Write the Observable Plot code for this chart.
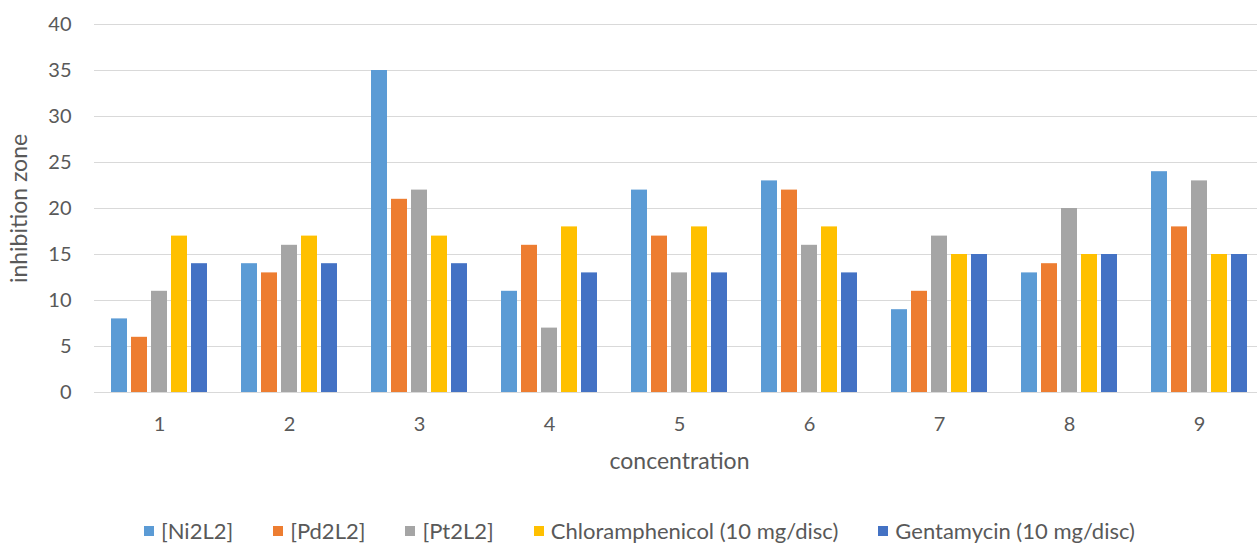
<!DOCTYPE html>
<html>
<head>
<meta charset="utf-8">
<script src="https://cdn.jsdelivr.net/npm/d3@7"></script>
<script src="https://cdn.jsdelivr.net/npm/@observablehq/plot@0.6"></script>
<style>
  html, body { margin: 0; padding: 0; background: #fff; }
  #chart { width: 1257px; height: 544px; position: relative; overflow: hidden; font-family: Lato, "Open Sans", sans-serif; color: #595959; }
  #chart svg { display: block; max-width: none !important; }
  #legend { display: flex; justify-content: center; align-items: center; gap: 40px; font-size: 22px; line-height: 26px; height: 30px; padding-top: 16px; margin-left: 22px; white-space: nowrap; }
  #legend .item { display: flex; align-items: center; gap: 7px; }
  #legend .sw { width: 10px; height: 10px; display: inline-block; }
</style>
</head>
<body>
<div id="chart"></div>
<script>
const categories = ["1", "2", "3", "4", "5", "6", "7", "8", "9"];
const series = ["[Ni2L2]", "[Pd2L2]", "[Pt2L2]", "Chloramphenicol (10 mg/disc)", "Gentamycin (10 mg/disc)"];
const ni2l2 = [8, 14, 35, 11, 22, 23, 9, 13, 24];
const pd2l2 = [6, 13, 21, 16, 17, 22, 11, 14, 18];
const pt2l2 = [11, 16, 22, 7, 13, 16, 17, 20, 23];
const chloramphenicol = [17, 17, 17, 18, 18, 18, 15, 15, 15];
const gentamycin = [14, 14, 14, 13, 13, 13, 15, 15, 15];
const yTicks = [0, 5, 10, 15, 20, 25, 30, 35, 40];
const colors = ["#5B9BD5", "#ED7D31", "#A5A5A5", "#FFC000", "#4472C4"];
const yLabel = "inhibition zone";
const xLabel = "concentration";

const seriesValues = [ni2l2, pd2l2, pt2l2, chloramphenicol, gentamycin];
const data = [];
categories.forEach((c, i) => {
  series.forEach((s, j) => data.push({ conc: c, series: s, value: seriesValues[j][i] }));
});

const chart = Plot.plot({
  width: 1265,
  height: 500,
  marginTop: 24,
  marginBottom: 108,
  marginLeft: 92,
  marginRight: 0,
  style: { fontFamily: "Lato, 'Open Sans', sans-serif", fontSize: "20px", color: "#595959", background: "#fff", overflow: "visible", maxWidth: "none" },
  fx: { domain: categories, padding: 0, label: xLabel, axis: "bottom", labelAnchor: "center", labelOffset: 76, tickSize: 0, tickPadding: 24 },
  x: { domain: series, axis: null, paddingInner: 0.2, paddingOuter: 0.85 },
  y: { domain: [0, 40], ticks: yTicks, tickSize: 0, tickPadding: 23, label: yLabel, labelArrow: false, labelAnchor: "center", labelOffset: 84 },
  color: { domain: series, range: colors },
  marks: [
    Plot.ruleY(yTicks, { stroke: "#d9d9d9", strokeWidth: 1, strokeOpacity: 1 }),
    Plot.barY(data, { fx: "conc", x: "series", y: "value", fill: "series" })
  ]
});

// enlarge axis titles, strip any arrow glyph
chart.querySelectorAll("text").forEach(t => {
  const txt = t.textContent.replace(/[\u2191\u2192\u2193\u2190]/g, "").trim();
  if (txt === yLabel || txt === xLabel) {
    t.textContent = txt;
    t.style.fontSize = "23px";
  }
});

const root = document.getElementById("chart");
root.appendChild(chart);

const legend = document.createElement("div");
legend.id = "legend";
series.forEach((s, j) => {
  const item = document.createElement("div");
  item.className = "item";
  const sw = document.createElement("span");
  sw.className = "sw";
  sw.style.background = colors[j];
  const t = document.createElement("span");
  t.textContent = s;
  item.appendChild(sw);
  item.appendChild(t);
  legend.appendChild(item);
});
root.appendChild(legend);
</script>
</body>
</html>
